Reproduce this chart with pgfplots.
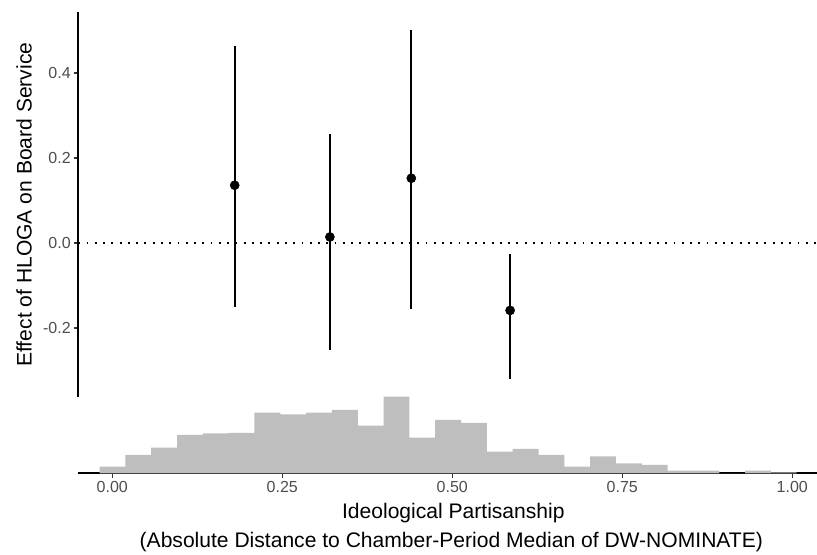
\documentclass[border=0pt]{standalone}
\usepackage{fontspec}
\setmainfont{Liberation Sans}
\usepackage{pgfplots}
\pgfplotsset{compat=1.18}
\definecolor{histgray}{HTML}{BEBEBE}
\definecolor{ticktext}{HTML}{4D4D4D}
\definecolor{tickcol}{HTML}{333333}
\begin{document}
\begin{tikzpicture}
\useasboundingbox (0,0) rectangle (612.75pt,416.25pt);
% top panel: effects with 95% intervals
\begin{axis}[
  at={(58.725pt,118.725pt)}, anchor=south west,
  scale only axis, width=561pt, height=288.15pt,
  xmin=-0.05, xmax=1.05, ymin=-0.361, ymax=0.543,
  hide x axis, axis y line*=left,
  axis line style={line width=1.4pt, black},
  ytick={-0.2,0,0.2,0.4}, yticklabels={-0.2,0.0,0.2,0.4},
  tick align=outside, major tick length=3.5pt,
  tick style={line width=1.2pt, tickcol},
  yticklabel style={font=\fontsize{12}{14}\selectfont, text=ticktext, inner sep=2pt},
  clip=false,
]
\addplot[black, line width=1.4pt, dash pattern=on 1.4pt off 4.8pt] coordinates {(-0.05,0) (1.05,0)};
\addplot[only marks, mark=*, mark size=3.4pt, black,
  error bars/.cd, y dir=both, y explicit, error mark=none,
  error bar style={line width=1.5pt, black}]
  coordinates {
  (0.180,0.1365) += (0,0.3285) -= (0,0.2871)
  (0.320,0.0148) += (0,0.2432) -= (0,0.2666)
  (0.4397,0.153) += (0,0.349) -= (0,0.308)
  (0.585,-0.158) += (0,0.1321) -= (0,0.162)
  };
\end{axis}
% bottom panel: histogram
\begin{axis}[
  at={(58.725pt,61.275pt)}, anchor=south west,
  scale only axis, width=561pt, height=57.75pt,
  xmin=-0.05, xmax=1.05, ymin=0, ymax=77,
  hide y axis, axis x line*=bottom,
  axis line style={line width=1.4pt, black},
  xtick={0,0.25,0.5,0.75,1}, xticklabels={0.00,0.25,0.50,0.75,1.00},
  tick align=outside, major tick length=3.5pt,
  tick style={line width=1.2pt, tickcol},
  xticklabel style={font=\fontsize{12}{14}\selectfont, text=ticktext, inner sep=2pt},
]
\addplot[ybar interval, fill=histgray, draw=none] coordinates {
(-0.0187,6.7) (0.0193,18.3) (0.0572,25.7) (0.0952,38.3) (0.1332,40) (0.1712,40.5)
(0.2091,60.7) (0.2471,59) (0.2851,60.7) (0.3230,63.3) (0.3610,47.7) (0.3990,76.7)
(0.4369,35.7) (0.4749,53.3) (0.5129,50.3) (0.5509,21.7) (0.5888,24.3) (0.6268,18.3)
(0.6648,6.7) (0.7027,17) (0.7407,10) (0.7787,8.3) (0.8166,2.7) (0.8546,2.7)
(0.8926,0) (0.9306,2.7) (0.9685,1) (1.0065,1)
};
\end{axis}
\node[rotate=90, font=\fontsize{15.8}{18}\selectfont] at (18pt,262.8pt) {Effect of HLOGA on Board Service};
\node[font=\fontsize{15.8}{18}\selectfont] at (340pt,31.7pt) {Ideological Partisanship};
\node[font=\fontsize{15.8}{18}\selectfont] at (338.5pt,10pt) {(Absolute Distance to Chamber-Period Median of DW-NOMINATE)};
\end{tikzpicture}
\end{document}
